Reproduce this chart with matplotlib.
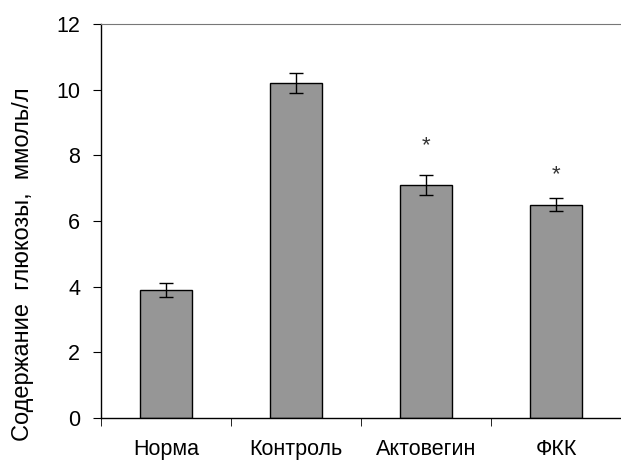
import numpy as np
import matplotlib
matplotlib.use('Agg')
import matplotlib.pyplot as plt

plt.rcParams['font.family'] = ['Liberation Sans', 'DejaVu Sans']

groups = ['Норма', 'Контроль', 'Актовегин', 'ФКК']
glucose = [3.9, 10.2, 7.1, 6.5]
errors = [0.2, 0.3, 0.3, 0.2]
stars = ['', '', '*', '*']
star_y = [0, 0, 8.3, 7.4]

fig = plt.figure(figsize=(6.21, 4.63), dpi=100)
ax = fig.add_axes([101/621, 45/463, 520/621, 394/463])

pos = np.arange(len(groups))
ax.bar(pos, glucose, 0.4, color='#969696', edgecolor='black', linewidth=1,
       yerr=errors, error_kw=dict(ecolor='black', elinewidth=1, capsize=5, capthick=1))

for p, s, y in zip(pos, stars, star_y):
    if s:
        ax.text(p, y, s, ha='center', va='center', fontsize=16, color='#333333')

ax.set_xlim(-0.5, 3.5)
ax.set_ylim(0, 12)
ax.set_yticks(range(0, 13, 2))
ax.tick_params(axis='y', direction='out', length=6, labelsize=15.5, pad=9)

ax.set_xticks(pos)
ax.set_xticklabels(groups, fontsize=15.5)
ax.tick_params(axis='x', length=0, pad=15)
ax.set_xticks(np.arange(-0.5, 3.6, 1), minor=True)
ax.tick_params(axis='x', which='minor', direction='out', length=6)

fig.text(23/621, 1 - 264/463, 'Содержание  глюкозы,  ммоль/л', rotation=90,
         ha='center', va='center', fontsize=17)

ax.spines['right'].set_visible(False)
ax.spines['top'].set_color('#777777')
ax.spines['left'].set_linewidth(1)
ax.spines['bottom'].set_linewidth(1)

fig.savefig('out.png', dpi=100)
